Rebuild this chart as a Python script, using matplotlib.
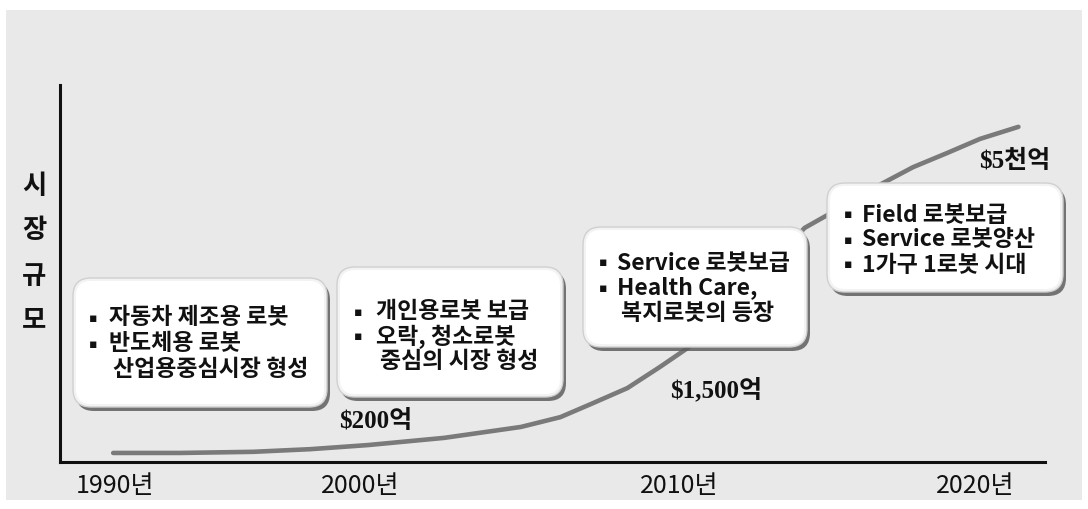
import matplotlib
matplotlib.use("Agg")
import matplotlib.pyplot as plt
from matplotlib.patches import FancyBboxPatch, Rectangle

# ---------------- data ----------------
# timeline position (0-100 along the x axis) and market size (0-100, schematic)
curve_x = [5.4, 12.2, 19.6, 25.4, 31.3, 39.0, 46.8, 50.8, 54.1, 57.6, 60.9,
           63.7, 67.0, 71.1, 75.6, 79.2, 83.2, 86.6, 90.1, 93.4, 97.3]
curve_y = [2.4, 2.4, 2.7, 3.4, 4.5, 6.4, 9.3, 11.9, 15.6, 19.6, 25.2,
           30.2, 38.2, 49.6, 62.1, 67.4, 73.5, 78.2, 82.0, 85.7, 88.9]

tick_pos = [5.6, 30.5, 62.9, 92.9]
tick_labels = ["1990년", "2000년", "2010년", "2020년"]

y_label_chars = ["시", "장", "규", "모"]

value_labels = ["$200억", "$1,500억", "$5천억"]

box_lines = [
    ["자동차 제조용 로봇", "반도체용 로봇", "산업용중심시장 형성"],
    ["개인용로봇 보급", "오락, 청소로봇", "중심의 시장 형성"],
    ["Service 로봇보급", "Health Care,", "복지로봇의 등장"],
    ["Field 로봇보급", "Service 로봇양산", "1가구 1로봇 시대"],
]
box_bullets = [
    [True, True, False],
    [True, True, False],
    [True, True, False],
    [True, True, True],
]

# ---------------- layout (pixels) ----------------
W, H = 1088, 509
fig = plt.figure(figsize=(W / 100, H / 100), dpi=100, facecolor="white")

# background panel
bg = fig.add_axes([0, 0, 1, 1], zorder=0)
bg.set_xlim(0, W); bg.set_ylim(H, 0); bg.axis("off")
bg.add_patch(Rectangle((6, 10), 1076, 490, facecolor="#e9e9e9", edgecolor="none"))

KR = ["Noto Sans CJK KR", "DejaVu Sans"]
NARROW = ["Liberation Sans Narrow", "Noto Sans CJK KR"]
SERIF = ["Liberation Serif", "Noto Sans CJK KR"]

# main axes: px x 60..1045, y 85..462
ax_l, ax_r, ax_t, ax_b = 60, 1045, 85, 462
ax = fig.add_axes([ax_l / W, 1 - ax_b / H, (ax_r - ax_l) / W, (ax_b - ax_t) / H], zorder=1)
ax.patch.set_alpha(0)
ax.set_xlim(0, 100)
ax.set_ylim(0, 100)
for s in ["top", "right"]:
    ax.spines[s].set_visible(False)
for s in ["left", "bottom"]:
    ax.spines[s].set_linewidth(2.2)
    ax.spines[s].set_color("#111111")
ax.set_yticks([])
ax.set_xticks(tick_pos)
ax.set_xticklabels(tick_labels, family=NARROW, fontsize=18, color="#111111")
ax.tick_params(axis="x", length=0, pad=8)

ax.plot(curve_x, curve_y, color="#7a7a7a", lw=3.3, solid_capstyle="round",
        solid_joinstyle="round", zorder=2)

# overlay in pixel coordinates for boxes and annotations
ov = fig.add_axes([0, 0, 1, 1], zorder=3)
ov.set_xlim(0, W); ov.set_ylim(H, 0); ov.axis("off")
ov.patch.set_alpha(0)

# y label stacked characters
for ch, yy in zip(y_label_chars, [187, 231, 276, 320]):
    ov.text(34, yy, ch, family=KR, fontsize=19, fontweight="bold",
            ha="center", va="center", color="#111111")

# boxes: (left, top, right, bottom)
boxes = [(73, 278, 327, 407), (337, 267, 563, 397), (583, 227, 807, 347), (827, 183, 1063, 292)]
bullet_x = [93, 358, 603, 848]
text_x = [109, 376, 617, 862]
indent_x = [113, 380, 621, 862]
line_y = [[318, 344, 370], [312, 337, 362], [263, 288, 313], [215, 240, 265]]

for (l, t, r, b), bx, tx, ix, ys, lines, bul in zip(boxes, bullet_x, text_x, indent_x,
                                                    line_y, box_lines, box_bullets):
    rs = 18
    shadow = FancyBboxPatch((l + 3, t + 4), r - l, b - t,
                            boxstyle=f"round,pad=0,rounding_size={rs}",
                            facecolor="#5e5e5e", edgecolor="none", alpha=0.85)
    ov.add_patch(shadow)
    outer = FancyBboxPatch((l, t), r - l, b - t,
                           boxstyle=f"round,pad=0,rounding_size={rs}",
                           facecolor="#f3f3f3", edgecolor="#d0d0d0", lw=1.0)
    ov.add_patch(outer)
    inner = FancyBboxPatch((l + 3, t + 3), r - l - 6, b - t - 6,
                           boxstyle=f"round,pad=0,rounding_size={rs - 3}",
                           facecolor="white", edgecolor="none")
    ov.add_patch(inner)
    for yy, ln, has_b in zip(ys, lines, bul):
        if has_b:
            ov.text(bx, yy, "▪", family=["DejaVu Sans"], fontsize=9,
                    ha="center", va="center", color="#111111")
            ov.text(tx, yy, ln, family=KR, fontsize=16.5, fontweight="bold",
                    ha="left", va="center", color="#111111")
        else:
            ov.text(ix, yy, ln, family=KR, fontsize=16.5, fontweight="bold",
                    ha="left", va="center", color="#111111")

# value labels
for lab, (vx, vy) in zip(value_labels, [(376, 422), (716, 390), (1015, 161)]):
    ov.text(vx, vy, lab, family=SERIF, fontsize=18, fontweight="bold",
            ha="center", va="center", color="#111111")

fig.savefig("out.png", dpi=100, facecolor="white")
